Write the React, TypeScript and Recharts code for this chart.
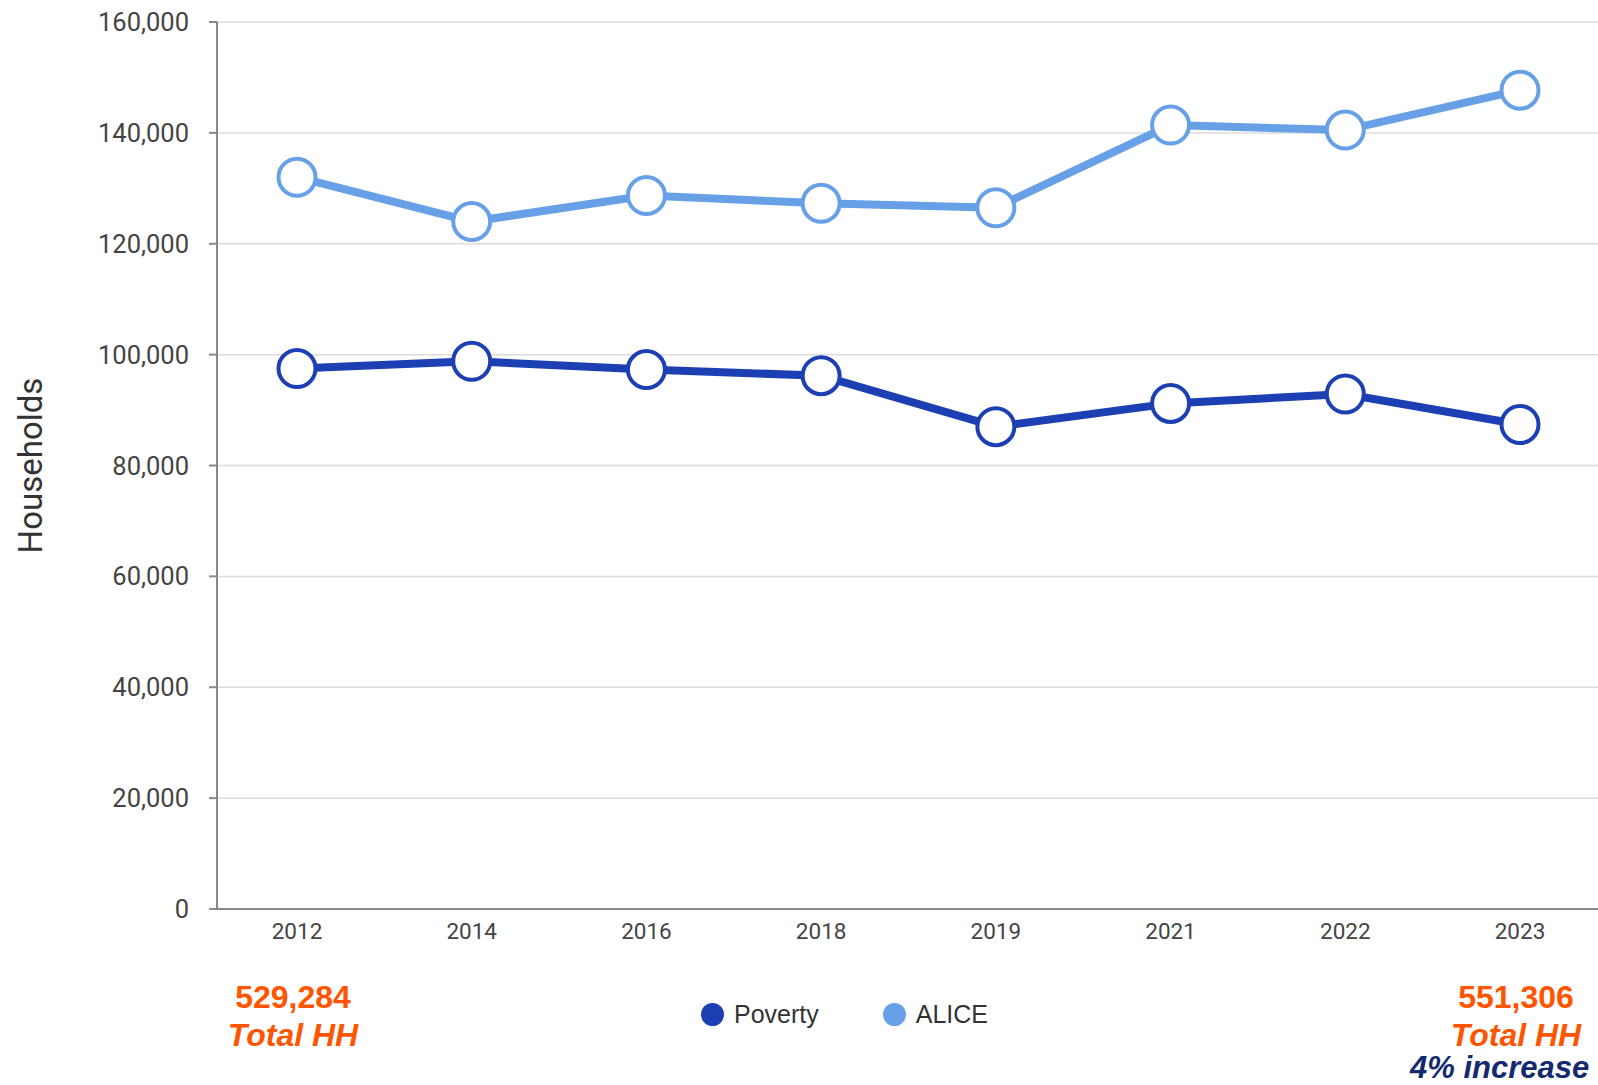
import React from "react";
import { LineChart, Line, XAxis, YAxis, CartesianGrid, Label } from "recharts";

const years = ["2012", "2014", "2016", "2018", "2019", "2021", "2022", "2023"];
const poverty = [97500, 98800, 97300, 96200, 87000, 91200, 92900, 87400];
const alice = [132000, 124000, 128700, 127300, 126500, 141400, 140500, 147700];
const yTicks = [0, 20000, 40000, 60000, 80000, 100000, 120000, 140000, 160000];
const legendItems = ["Poverty", "ALICE"];

const POVERTY_COLOR = "#1c3fb3";
const ALICE_COLOR = "#67a0e6";
const ORANGE = "#ff5500";
const NAVY = "#142a70";
const colors: Record<string, string> = { Poverty: POVERTY_COLOR, ALICE: ALICE_COLOR };

const data = years.map((y, i) => ({ year: y, Poverty: poverty[i], ALICE: alice[i] }));

const fmt = (v: number) => v.toLocaleString("en-US");

const annoStyle: React.CSSProperties = {
  position: "absolute",
  fontFamily: "Arial, 'Liberation Sans', sans-serif",
  fontWeight: "bold",
  fontSize: 32,
  color: ORANGE,
  textAlign: "center",
  whiteSpace: "nowrap",
  lineHeight: "38px",
};

export default function App() {
  return (
    <div style={{ position: "absolute", left: 0, top: 0, width: 1598, height: 1085, overflow: "hidden", background: "#fff" }}>
      <LineChart width={1598} height={1085} data={data} margin={{ top: 22, right: 0, bottom: 146, left: 0 }}>
        <CartesianGrid vertical={false} stroke="#dcdcdc" strokeWidth={1.5} />
        <XAxis
          dataKey="year"
          height={30}
          padding={{ left: 80, right: 78 }}
          axisLine={{ stroke: "#888", strokeWidth: 2 }}
          tickLine={false}
          tickSize={6}
          tickMargin={8}
          tick={{ fill: "#444", fontSize: 22.5, fontFamily: "Roboto, sans-serif" }}
        />
        <YAxis
          width={217}
          domain={[0, 160000]}
          ticks={yTicks}
          interval={0}
          tickFormatter={fmt}
          axisLine={{ stroke: "#888", strokeWidth: 2 }}
          tickLine={{ stroke: "#888", strokeWidth: 2 }}
          tickSize={8}
          tickMargin={20}
          tick={{ fill: "#444", fontSize: 25.5, fontFamily: "Roboto, sans-serif" }}
        >
          <Label
            value="Households"
            angle={-90}
            position="insideLeft"
            offset={30}
            style={{ fill: "#333", fontSize: 33, fontFamily: "Roboto, sans-serif", textAnchor: "middle" }}
          />
        </YAxis>
        <Line
          dataKey="Poverty"
          stroke={POVERTY_COLOR}
          strokeWidth={8}
          dot={{ r: 18.5, fill: "#fff", stroke: POVERTY_COLOR, strokeWidth: 4 }}
          activeDot={false}
          isAnimationActive={false}
        />
        <Line
          dataKey="ALICE"
          stroke={ALICE_COLOR}
          strokeWidth={8}
          dot={{ r: 18.5, fill: "#fff", stroke: ALICE_COLOR, strokeWidth: 4 }}
          activeDot={false}
          isAnimationActive={false}
        />
      </LineChart>
      <div style={{ position: "absolute", top: 999, left: 701, display: "flex", alignItems: "center", fontFamily: "Arial, 'Liberation Sans', sans-serif", fontSize: 25, color: "#333", lineHeight: "30px" }}>
        {legendItems.map((name, i) => (
          <div key={name} style={{ display: "flex", alignItems: "center", marginLeft: i ? 64 : 0 }}>
            <span style={{ width: 23, height: 23, borderRadius: 12, background: colors[name], display: "inline-block", marginRight: 10 }} />
            <span>{name}</span>
          </div>
        ))}
      </div>
      <div style={{ ...annoStyle, left: 193, width: 200, top: 978 }}>
        <div>529,284</div>
        <div style={{ fontStyle: "italic" }}>Total HH</div>
      </div>
      <div style={{ ...annoStyle, left: 1416, width: 200, top: 978 }}>
        <div>551,306</div>
        <div style={{ fontStyle: "italic" }}>Total HH</div>
      </div>
      <div style={{ ...annoStyle, left: 1410, top: 1052, color: NAVY, fontStyle: "italic", fontSize: 31, lineHeight: "32px", textAlign: "left" }}>4% increase</div>
    </div>
  );
}
